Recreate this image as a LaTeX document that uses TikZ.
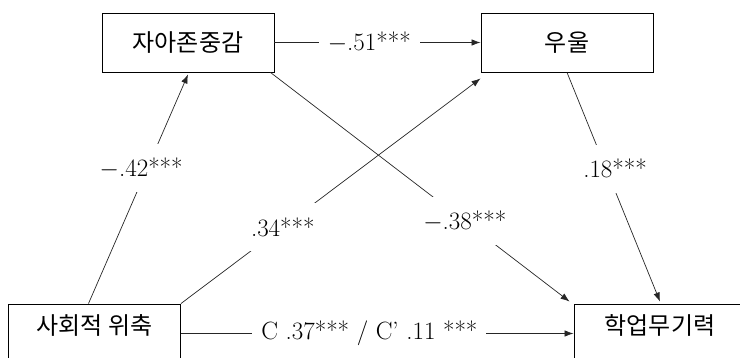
\documentclass[tikz,border=0pt]{standalone}
\usepackage{fontspec}
\newfontfamily\krfont{Noto Sans CJK KR}
\usepackage{tikz}
\usetikzlibrary{arrows.meta,shapes,calc}

\tikzset{
  var/.style={draw, line width=0.9pt, minimum width=172pt, minimum height=59pt, inner sep=0pt,
    font=\krfont\fontsize{24}{24}\selectfont},
  varlow/.style={var, text height=20pt, text depth=18pt},
  link/.style={->, >={Latex[length=9pt,width=6.5pt]}, line width=0.7pt, draw=black!85},
  coef/.style={fill=white, inner xsep=9pt, inner ysep=0pt, minimum height=48pt,
    font=\fontsize{25}{25}\selectfont}
}

\begin{document}
\begin{tikzpicture}[x=1pt,y=1pt]
\useasboundingbox (0,0) rectangle (740,358);
\clip (0,0) rectangle (740,358);

\node[var] (esteem) at (188,315.5) {자아존중감};
\node[var] (depress) at (567,315.5) {우울};
\node[varlow] (withdraw) at (94.5,24.5) {사회적 위축};
\node[varlow] (helpless) at (660,24.5) {학업무기력};

\draw[link] (esteem.east) -- (depress.west)
  node[coef, pos=0.46] (c51) {$-$.51***};
\draw[link] ([xshift=-6pt]withdraw.north) -- ([yshift=-2pt]esteem.south)
  node[coef, pos=0.59, xshift=-6pt] (c42) {$-$.42***};
\draw[link] (withdraw.north east) -- ([yshift=-6pt]depress.south west)
  node[coef, pos=0.34] (c34) {.34***};
\draw[link] ([xshift=-4pt]esteem.south east) -- ([xshift=-4pt,yshift=2pt]helpless.north west)
  node[coef, pos=0.65] (c38) {$-$.38***};
\draw[link] (depress.south) -- ([yshift=2pt]helpless.north)
  node[coef, pos=0.42, xshift=9pt] (c18) {.18***};
\draw[link] (withdraw.east) -- (helpless.west)
  node[coef, pos=0.48] (cc) {C .37*** / C’ .11 ***};
\end{tikzpicture}
\end{document}
